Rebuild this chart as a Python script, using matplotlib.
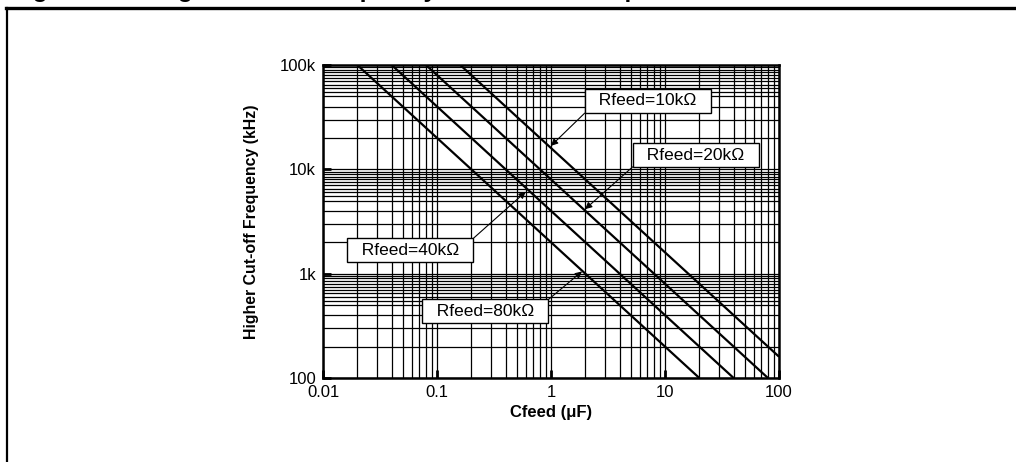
import matplotlib
matplotlib.use("Agg")
import matplotlib.pyplot as plt
from matplotlib.lines import Line2D
import numpy as np

plt.rcParams['font.family'] = ['Liberation Sans', 'DejaVu Sans']

# line end points (Cfeed in uF, frequency)
rfeed_labels = ["Rfeed=10k\u03a9", "Rfeed=20k\u03a9", "Rfeed=40k\u03a9", "Rfeed=80k\u03a9"]
c_start = [0.16, 0.08, 0.04, 0.02]
c_end = [100, 80, 40, 20]
f_start = [100000, 100000, 100000, 100000]
f_end = [160, 100, 100, 100]

x_ticks = [0.01, 0.1, 1, 10, 100]
x_ticklabels = ["0.01", "0.1", "1", "10", "100"]
y_ticks = [100, 1000, 10000, 100000]
y_ticklabels = ["100", "1k", "10k", "100k"]

# annotation placement: (box centre), (arrow tip), arrow start on box
box_xy = [(7.1, 45200), (18.7, 13700), (0.058, 1680), (0.264, 438)]
tip_xy = [(1.0, 16800), (1.99, 4150), (0.60, 6100), (1.87, 1050)]
relpos = [(0, 0), (0, 0), (1, 1), (1, 1)]

fig = plt.figure(figsize=(10.16, 4.62), dpi=100)
ax = fig.add_axes([323/1016, 1-378/462, 456/1016, 313/462])

ax.set_xscale('log')
ax.set_yscale('log')
ax.set_xlim(0.01, 100)
ax.set_ylim(100, 100000)

# grid
xminor = [m * 10.0**d for d in range(-2, 2) for m in range(2, 10)]
yminor = [m * 10.0**d for d in range(2, 5)
          for m in [2, 3, 4, 5, 5.5, 6, 6.5, 7, 7.5, 8, 8.5, 9, 9.5]]
ax.set_xticks(xminor, minor=True)
ax.set_yticks(yminor, minor=True)
ax.set_xticks(x_ticks)
ax.set_xticklabels(x_ticklabels)
ax.set_yticks(y_ticks)
ax.set_yticklabels(y_ticklabels)
ax.grid(True, which='both', color='black', lw=0.9)
ax.tick_params(which='minor', length=0)
ax.tick_params(which='major', direction='in', length=6, width=2, labelsize=12, pad=5)
for s in ax.spines.values():
    s.set_linewidth(1.8)

for i in range(4):
    ax.plot([c_start[i], c_end[i]], [f_start[i], f_end[i]], color='black', lw=1.6,
            solid_capstyle='butt', zorder=3)

for i in range(4):
    ax.annotate("  " + rfeed_labels[i] + "  ", xy=tip_xy[i], xytext=box_xy[i],
                ha='center', va='center', fontsize=12.5, zorder=5,
                bbox=dict(boxstyle='square,pad=0.25', fc='white', ec='black', lw=1.0),
                arrowprops=dict(arrowstyle='-|>', color='black', lw=0.8,
                                mutation_scale=10, relpos=relpos[i],
                                shrinkA=0, shrinkB=0))

ax.set_xlabel("Cfeed (\u03bcF)", fontsize=12, fontweight='bold', labelpad=4)
ax.set_ylabel("Higher Cut-off Frequency (kHz)", fontsize=11.4, fontweight='bold', labelpad=15)

# figure frame and clipped caption
fig.add_artist(Line2D([6/1016, 1], [1-8/462, 1-8/462], transform=fig.transFigure,
                      color='black', lw=2.4))
fig.add_artist(Line2D([6.5/1016, 6.5/1016], [0, 1-8/462], transform=fig.transFigure,
                      color='black', lw=1.6))
fig.text(11/1016, 1 + 3.2/462, "Figure 100.  Higher cut-off frequency vs. feedback capacitor",
         fontsize=17.6, fontweight='bold', va='baseline', ha='left')

fig.savefig("out.png", dpi=100)
